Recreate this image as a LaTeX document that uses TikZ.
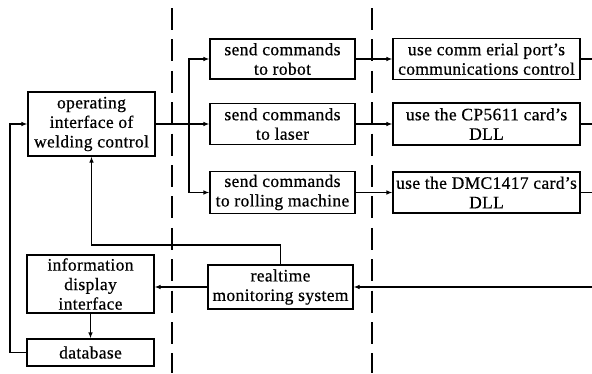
\documentclass[tikz,border=0pt]{standalone}
\usepackage{fontspec}
\setmainfont{Liberation Serif}[LetterSpace=2,FakeBold=0.6]
\usetikzlibrary{arrows.meta}
\begin{document}
\begin{tikzpicture}[x=1pt,y=-1pt,
  box/.style={draw, line width=1.1pt, rectangle, inner sep=0pt, align=center,
    font=\fontsize{17.5}{19.5}\selectfont},
  conn/.style={line width=1.1pt},
  arr/.style={conn, -{Latex[length=6pt,width=4.5pt]}},
  lane/.style={line width=2.6pt, dash pattern=on 22pt off 9.4pt}]
\useasboundingbox (0,0) rectangle (592,373);
% lanes
\draw[lane] (172,8) -- (172,373);
\draw[lane] (372,8) -- (372,373);
% boxes
\node[box, minimum width=127pt, minimum height=64pt] (op) at (91.5,124) {operating\\interface of\\welding control};
\node[box, minimum width=145pt, minimum height=40pt] (robot) at (282.5,59) {send commands\\to robot};
\node[box, minimum width=145pt, minimum height=41pt] (laser) at (282.5,124) {send commands\\to laser};
\node[box, minimum width=145pt, minimum height=42pt] (roll) at (282.5,192.5) {send commands\\to rolling machine};
\node[box, minimum width=187pt, minimum height=41pt] (com) at (486.5,59) {use comm erial port's\\communications control};
\node[box, minimum width=187pt, minimum height=42pt] (cp) at (486.5,124) {use the CP5611 card's\\DLL};
\node[box, minimum width=187pt, minimum height=41pt] (dmc) at (486.5,192.5) {use the DMC1417 card's\\DLL};
\node[box, minimum width=127pt, minimum height=58pt] (info) at (90.5,284) {information\\display\\interface};
\node[box, minimum width=127pt, minimum height=27pt] (db) at (90.5,352.5) {database};
\node[box, minimum width=145pt, minimum height=44pt] (rt) at (280.5,287) {realtime\\monitoring system};
% helper coordinates
\coordinate (br) at (189,124);
\coordinate (edge) at (592,0);
\coordinate (lb) at (10,0);
\coordinate (fb) at (0,245);
% connectors
\draw[arr] (op.east) -- (laser.west);
\draw[arr] (br) |- (robot.west);
\draw[arr] (br) |- (roll.west);
\draw[arr] (robot.east) -- (com.west);
\draw[arr] (laser.east) -- (cp.west);
\draw[arr] (roll.east) -- (dmc.west);
\draw[conn] (com.east) -- (com.east -| edge);
\draw[conn] (cp.east) -- (cp.east -| edge);
\draw[conn] (dmc.east) -- (dmc.east -| edge);
\draw[arr] (rt.east -| edge) -- (rt.east);
\draw[arr] (rt.west) -- (rt.west -| info.east);
\draw[arr] (rt.north) -- (rt.north |- fb) -| (op.south);
\draw[arr] (info.south) -- (db.north);
\draw[arr] (db.west) -- (db.west -| lb) |- (op.west);
\end{tikzpicture}
\end{document}
